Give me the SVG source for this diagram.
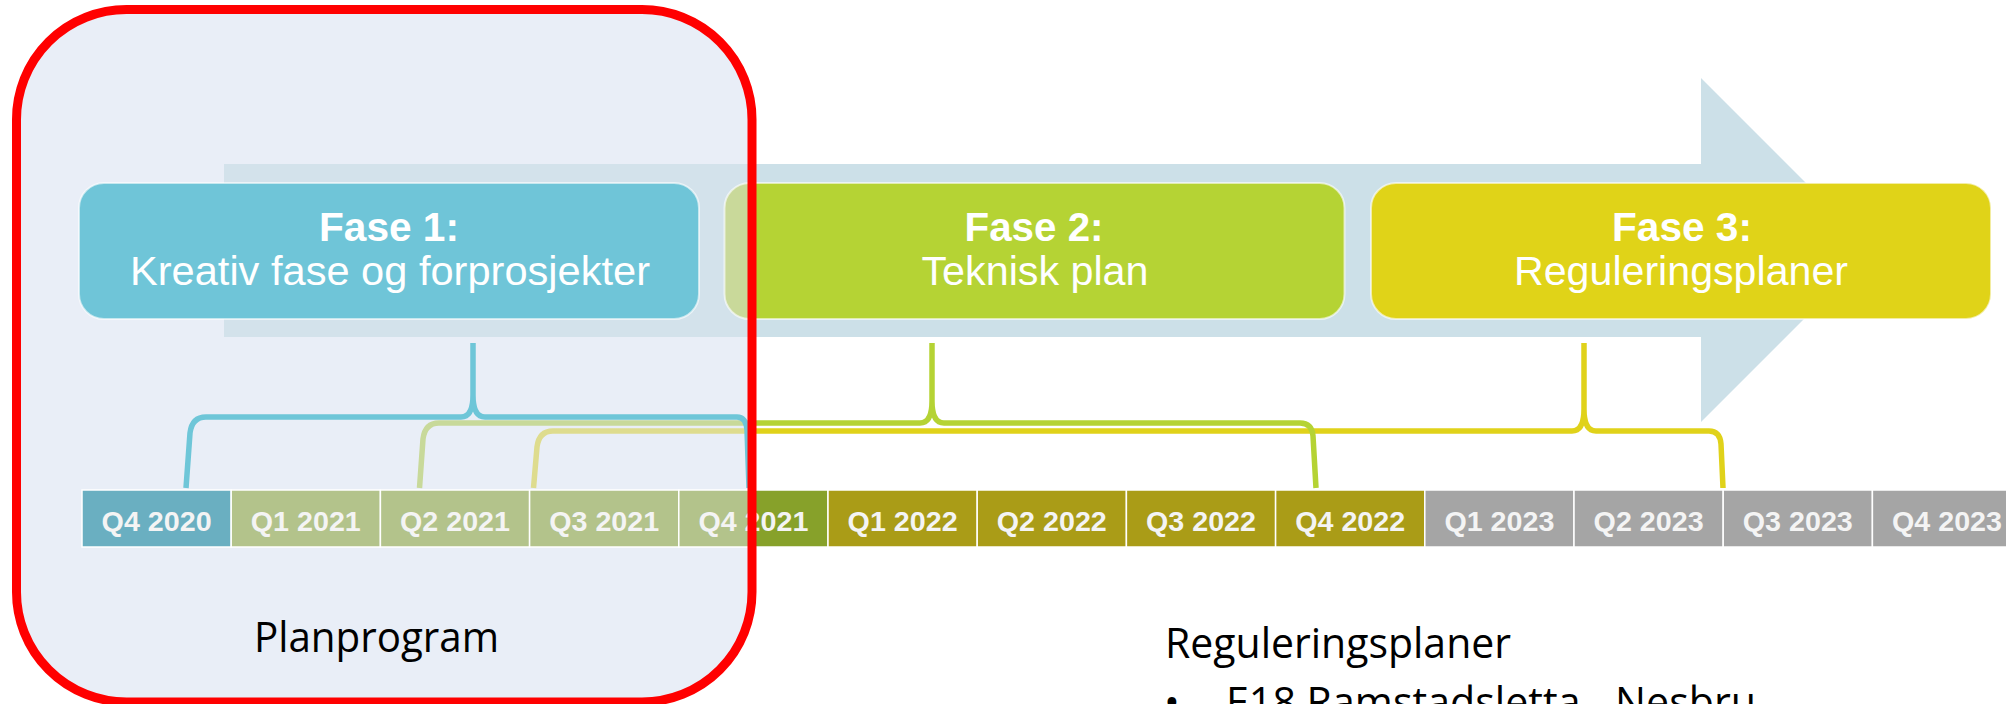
<svg xmlns="http://www.w3.org/2000/svg" width="2006" height="704" viewBox="0 0 2006 704">
<style>
.phase{stroke:#FFFFFF;stroke-opacity:0.6;stroke-width:2}
.ph-title{font-family:"Liberation Sans",Arial,sans-serif;font-weight:bold;font-size:40px;fill:#FFFFFF;text-anchor:middle}
.ph-sub{font-family:"Liberation Sans",Arial,sans-serif;font-size:40px;fill:#FFFFFF;text-anchor:middle}
.q{stroke:#FFFFFF;stroke-width:1.5}
.q-text{font-family:"Liberation Sans",Arial,sans-serif;font-weight:bold;font-size:28.5px;fill:#F4F4F4;text-anchor:middle}
.brace{fill:none;stroke-width:5.5;stroke-linejoin:round}
.note{font-family:"Open Sans","Noto Sans",sans-serif;font-size:42px;fill:#000000}
</style>
<defs>
<linearGradient id="gArrow" gradientUnits="userSpaceOnUse" x1="0" y1="0" x2="2006" y2="0"><stop offset="0.3749" stop-color="#D3E2EB"/><stop offset="0.3749" stop-color="#CCE0E8"/></linearGradient>
<linearGradient id="gFase2" gradientUnits="userSpaceOnUse" x1="0" y1="0" x2="2006" y2="0"><stop offset="0.3749" stop-color="#C9D99A"/><stop offset="0.3749" stop-color="#B5D334"/></linearGradient>
<linearGradient id="gQ4" gradientUnits="userSpaceOnUse" x1="0" y1="0" x2="2006" y2="0"><stop offset="0.3749" stop-color="#B3C38B"/><stop offset="0.3749" stop-color="#87A12A"/></linearGradient>
<linearGradient id="gGreen" gradientUnits="userSpaceOnUse" x1="0" y1="0" x2="2006" y2="0"><stop offset="0.3749" stop-color="#C8D99A"/><stop offset="0.3749" stop-color="#B5D334"/></linearGradient>
<linearGradient id="gYellow" gradientUnits="userSpaceOnUse" x1="0" y1="0" x2="2006" y2="0"><stop offset="0.3749" stop-color="#DEDC8E"/><stop offset="0.3749" stop-color="#E0D21A"/></linearGradient>
</defs>
<rect x="0" y="0" width="2006" height="704" fill="#FFFFFF"/>
<rect id="planprogram-area-fill" x="16.5" y="9.5" width="735.5" height="692.5" rx="110" ry="110" fill="#E9EEF7"/>
<g id="timeline-arrow">
<polygon points="224,164 1701,164 1701,78 1873,250 1701,422 1701,337 224,337" fill="url(#gArrow)"/>
</g>
<g id="fase1">
<rect class="phase" x="79" y="183" width="620" height="136" rx="25" fill="#6FC5D8"/>
<text class="ph-title" x="389" y="241" textLength="140" lengthAdjust="spacingAndGlyphs" fill="#EAF2F6">Fase 1:</text>
<text class="ph-sub" x="390" y="285" textLength="520" lengthAdjust="spacingAndGlyphs">Kreativ fase og forprosjekter</text>
</g>
<g id="fase2">
<rect class="phase" x="724.5" y="183" width="620" height="136" rx="25" fill="url(#gFase2)"/>
<text class="ph-title" x="1034" y="241" textLength="139" lengthAdjust="spacingAndGlyphs">Fase 2:</text>
<text class="ph-sub" x="1035" y="285" textLength="227" lengthAdjust="spacingAndGlyphs">Teknisk plan</text>
</g>
<g id="fase3">
<rect class="phase" x="1371" y="183" width="620" height="136" rx="25" fill="#E0D318"/>
<text class="ph-title" x="1682" y="241" textLength="140" lengthAdjust="spacingAndGlyphs">Fase 3:</text>
<text class="ph-sub" x="1681" y="285" textLength="334" lengthAdjust="spacingAndGlyphs">Reguleringsplaner</text>
</g>
<g id="q4-2020"><rect class="q" x="82" y="490" width="149.2" height="57" fill="#6AAFC1"/><text class="q-text" x="156.6" y="531" textLength="110" lengthAdjust="spacingAndGlyphs">Q4 2020</text></g>
<g id="q1-2021"><rect class="q" x="231.2" y="490" width="149.2" height="57" fill="#B3C38B"/><text class="q-text" x="305.8" y="531" textLength="110" lengthAdjust="spacingAndGlyphs">Q1 2021</text></g>
<g id="q2-2021"><rect class="q" x="380.4" y="490" width="149.2" height="57" fill="#B3C38B"/><text class="q-text" x="455" y="531" textLength="110" lengthAdjust="spacingAndGlyphs">Q2 2021</text></g>
<g id="q3-2021"><rect class="q" x="529.6" y="490" width="149.2" height="57" fill="#B3C38B"/><text class="q-text" x="604.2" y="531" textLength="110" lengthAdjust="spacingAndGlyphs">Q3 2021</text></g>
<g id="q4-2021"><rect class="q" x="678.8" y="490" width="149.2" height="57" fill="url(#gQ4)"/><text class="q-text" x="753.4" y="531" textLength="110" lengthAdjust="spacingAndGlyphs">Q4 2021</text></g>
<g id="q1-2022"><rect class="q" x="828" y="490" width="149.2" height="57" fill="#AA9C17"/><text class="q-text" x="902.6" y="531" textLength="110" lengthAdjust="spacingAndGlyphs">Q1 2022</text></g>
<g id="q2-2022"><rect class="q" x="977.2" y="490" width="149.2" height="57" fill="#AA9C17"/><text class="q-text" x="1051.8" y="531" textLength="110" lengthAdjust="spacingAndGlyphs">Q2 2022</text></g>
<g id="q3-2022"><rect class="q" x="1126.4" y="490" width="149.2" height="57" fill="#AA9C17"/><text class="q-text" x="1201" y="531" textLength="110" lengthAdjust="spacingAndGlyphs">Q3 2022</text></g>
<g id="q4-2022"><rect class="q" x="1275.6" y="490" width="149.2" height="57" fill="#AA9C17"/><text class="q-text" x="1350.2" y="531" textLength="110" lengthAdjust="spacingAndGlyphs">Q4 2022</text></g>
<g id="q1-2023"><rect class="q" x="1424.8" y="490" width="149.2" height="57" fill="#A5A5A5"/><text class="q-text" x="1499.4" y="531" textLength="110" lengthAdjust="spacingAndGlyphs">Q1 2023</text></g>
<g id="q2-2023"><rect class="q" x="1574" y="490" width="149.2" height="57" fill="#A5A5A5"/><text class="q-text" x="1648.6" y="531" textLength="110" lengthAdjust="spacingAndGlyphs">Q2 2023</text></g>
<g id="q3-2023"><rect class="q" x="1723.2" y="490" width="149.2" height="57" fill="#A5A5A5"/><text class="q-text" x="1797.8" y="531" textLength="110" lengthAdjust="spacingAndGlyphs">Q3 2023</text></g>
<g id="q4-2023"><rect class="q" x="1872.4" y="490" width="149.2" height="57" fill="#A5A5A5"/><text class="q-text" x="1947" y="531" textLength="110" lengthAdjust="spacingAndGlyphs">Q4 2023</text></g>
<g id="connectors">
<path class="brace" stroke="url(#gYellow)" d="M533.5,488 L537,447 Q539,431 553,431 L1572,431 C1580,431 1584,424 1584,409 L1584,343 M1584,409 C1584,424 1588,431 1596,431 L1709,431 Q1720,431 1721,444 L1723,488"/>
<path class="brace" stroke="url(#gGreen)" d="M419.5,488 L423,439 Q425,423 439,423 L920,423 C928,423 932,416 932,401 L932,343 M932,401 C932,416 936,423 944,423 L1300,423 Q1312,423 1313,436 L1316,488"/>
<path class="brace" stroke="#6EC6D8" d="M186,488 L190,433 Q192,417 206,417 L461,417 C469,417 473,410 473,395 L473,343 M473,395 C473,410 477,417 485,417 L737,417 Q746,417 747,430 L749,488"/>
</g>
<rect id="planprogram-area-border" x="16.5" y="9.5" width="735.5" height="692.5" rx="110" ry="110" fill="none" stroke="#FF0000" stroke-width="9"/>
<g id="planprogram-label">
<text class="note" x="254" y="652" textLength="245" lengthAdjust="spacingAndGlyphs">Planprogram</text>
</g>
<g id="reguleringsplaner-list">
<text class="note" x="1165" y="658" textLength="346" lengthAdjust="spacingAndGlyphs">Reguleringsplaner</text>
<text class="note" x="1164" y="717">•</text>
<text class="note" x="1226" y="717" textLength="530" lengthAdjust="spacingAndGlyphs">E18 Ramstadsletta - Nesbru</text>
</g>
</svg>
